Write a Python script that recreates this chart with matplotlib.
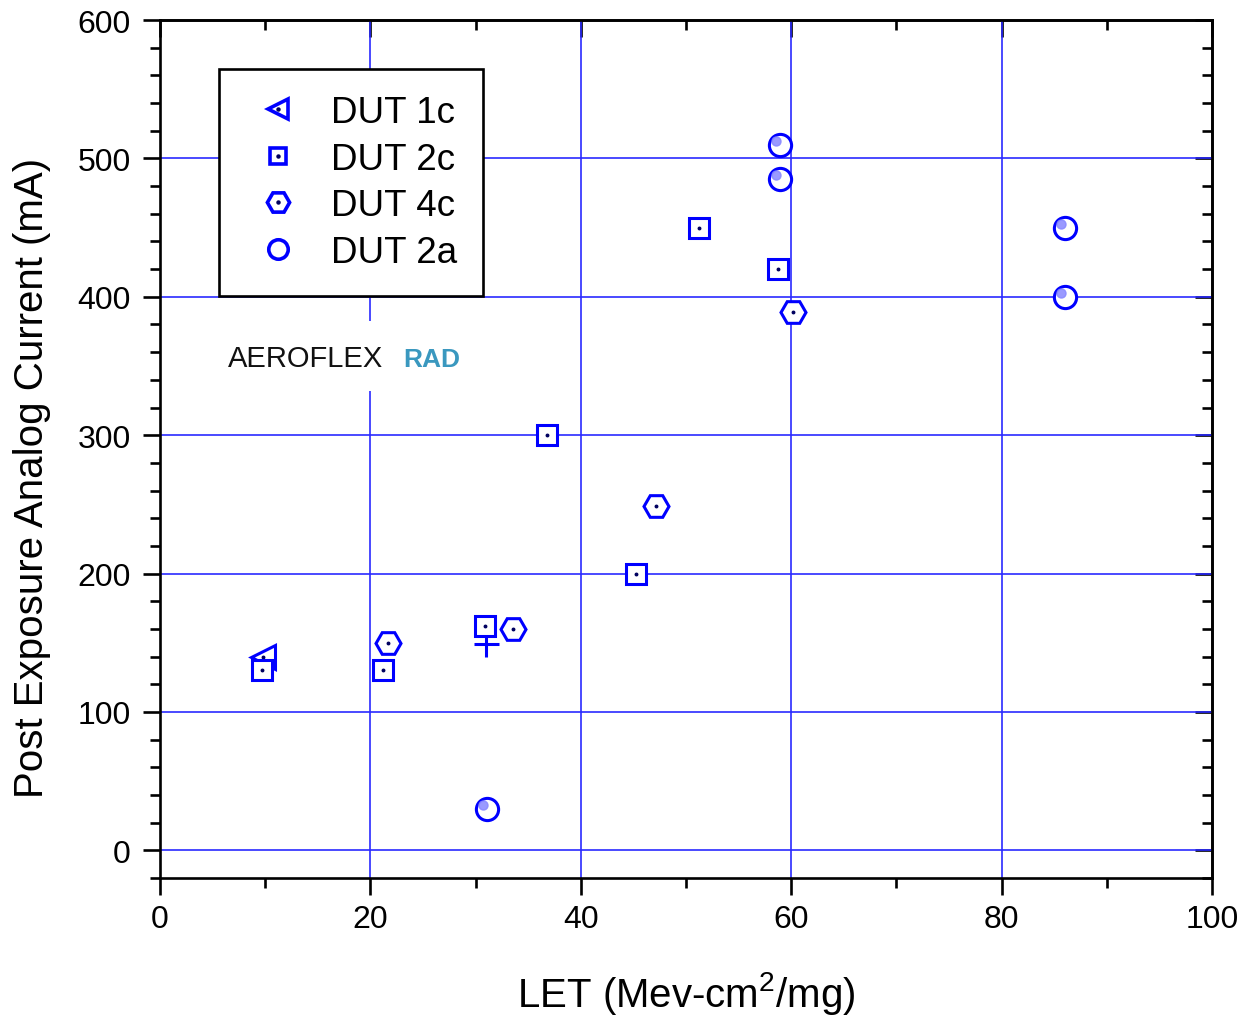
import matplotlib
matplotlib.use("Agg")
import matplotlib.pyplot as plt
from matplotlib.ticker import MultipleLocator
from matplotlib.patches import Rectangle
from matplotlib import transforms

plt.rcParams['font.family'] = ['Liberation Sans', 'DejaVu Sans']
plt.rcParams['mathtext.fontset'] = 'custom'
plt.rcParams['mathtext.rm'] = 'Liberation Sans'
plt.rcParams['mathtext.it'] = 'Liberation Sans'

# ---- data ----
dut1c_x = [9.8]
dut1c_y = [140]
dut2c_x = [9.7, 21.2, 30.9, 36.8, 45.2, 51.2, 58.7]
dut2c_y = [130, 130, 162, 300, 200, 450, 420]
dut4c_x = [21.7, 33.6, 47.1, 60.2]
dut4c_y = [150, 160, 249, 389]
dut2a_x = [31.1, 58.9, 58.9, 86.0, 86.0]
dut2a_y = [30, 510, 485, 450, 400]
extra_x = [31.0]
extra_y = [149]

x_ticks = [0, 20, 40, 60, 80, 100]
y_ticks = [0, 100, 200, 300, 400, 500, 600]
labels = ['DUT 1c', 'DUT 2c', 'DUT 4c', 'DUT 2a']

BLUE = '#0000ff'
DOT = '#000060'

fig = plt.figure(figsize=(12.52, 10.2), dpi=100)
ax = fig.add_axes([0.1278, 0.1382, 0.8403, 0.8412])
ax.set_xlim(0, 100)
ax.set_ylim(-20, 600)

# grid
for xv in x_ticks[1:-1]:
    ax.axvline(xv, color='#2a2aff', lw=1.2, zorder=1)
for yv in y_ticks[:-1]:
    ax.axhline(yv, color='#2a2aff', lw=1.2, zorder=1)

mew = 2.2
ax.plot(extra_x, extra_y, ls='none', marker='+', ms=18, mew=mew, color=BLUE, zorder=3)
h1, = ax.plot(dut1c_x, dut1c_y, ls='none', marker='<', ms=17, mew=mew,
              mec=BLUE, mfc='white', zorder=3)
ax.plot(dut1c_x, dut1c_y, ls='none', marker='o', ms=1.8, color=DOT, zorder=3)
h2, = ax.plot(dut2c_x, dut2c_y, ls='none', marker='s', ms=15, mew=mew,
              mec=BLUE, mfc='white', zorder=4)
ax.plot(dut2c_x, dut2c_y, ls='none', marker='o', ms=1.8, color=DOT, zorder=4)
h3, = ax.plot(dut4c_x, dut4c_y, ls='none', marker='H', ms=18, mew=mew,
              mec=BLUE, mfc='white', zorder=4)
ax.plot(dut4c_x, dut4c_y, ls='none', marker='o', ms=1.8, color=DOT, zorder=4)
h4, = ax.plot(dut2a_x, dut2a_y, ls='none', marker='o', ms=16, mew=mew,
              mec=BLUE, mfc='white', zorder=4)
hl_tr = transforms.offset_copy(ax.transData, fig=fig, x=-4, y=4, units='dots')
ax.plot(dut2a_x, dut2a_y, ls='none', marker='o', ms=6.5, color='#8888ff',
        alpha=0.85, transform=hl_tr, zorder=5)

# legend handles (slightly smaller, thicker markers)
lg1 = plt.Line2D([], [], ls='none', marker='<', ms=15, mew=2.6, mec=BLUE, mfc='white')
lg2 = plt.Line2D([], [], ls='none', marker='s', ms=12, mew=2.6, mec=BLUE, mfc='white')
lg3 = plt.Line2D([], [], ls='none', marker='H', ms=16, mew=2.6, mec=BLUE, mfc='white')
lg4 = plt.Line2D([], [], ls='none', marker='o', ms=14, mew=2.6, mec=BLUE, mfc='white')
d1 = plt.Line2D([], [], ls='none', marker='o', ms=2.2, color=DOT)
leg = ax.legend([(lg1, d1), (lg2, d1), (lg3, d1), (lg4,)], labels,
                loc='upper left', bbox_to_anchor=(0.0561, 0.9429),
                borderaxespad=0, fontsize=26.5, frameon=True, fancybox=False,
                framealpha=1, edgecolor='black', borderpad=0.7,
                handlelength=1.8, handletextpad=0.55, labelspacing=0.32)
leg.get_frame().set_linewidth(1.9)
leg.set_zorder(10)

# logo
ax.add_patch(Rectangle((0.0618, 0.5676), 0.233, 0.0816, transform=ax.transAxes,
                       facecolor='white', edgecolor='none', zorder=6))
ax.text(0.138, 0.606, 'AEROFLEX', transform=ax.transAxes, ha='center', va='center',
        fontsize=21, color='#111111', zorder=7)
ax.text(0.2586, 0.605, 'RAD', transform=ax.transAxes, ha='center', va='center',
        fontsize=19, fontweight='bold', color='#3a98bf', zorder=7)

# axes styling
for sp in ax.spines.values():
    sp.set_linewidth(1.9)
    sp.set_zorder(8)
ax.set_xticks(x_ticks)
ax.set_yticks(y_ticks)
ax.xaxis.set_minor_locator(MultipleLocator(10))
ax.yaxis.set_minor_locator(MultipleLocator(20))
ax.tick_params(which='major', direction='out', length=12, width=1.9,
               labelsize=23, top=False, right=False)
ax.tick_params(which='minor', direction='out', length=7, width=1.9,
               top=False, right=False)
ax.tick_params(axis='x', which='major', pad=7)
ax.tick_params(axis='y', which='major', pad=9)

top = ax.secondary_xaxis('top')
top.set_xticks(x_ticks)
top.xaxis.set_minor_locator(MultipleLocator(10))
top.tick_params(which='major', direction='in', length=12, width=1.9, labeltop=False)
top.tick_params(which='minor', direction='in', length=7, width=1.9)
top.spines['top'].set_linewidth(1.9)

right = ax.secondary_yaxis('right')
right.set_yticks(y_ticks)
right.yaxis.set_minor_locator(MultipleLocator(20))
right.tick_params(which='major', direction='in', length=12, width=1.9, labelright=False)
right.tick_params(which='minor', direction='in', length=7, width=1.9)
right.spines['right'].set_linewidth(1.9)

ax.set_xlabel('LET (Mev-cm$^2$/mg)', fontsize=29)
ax.set_ylabel('Post Exposure Analog Current (mA)', fontsize=29)
ax.xaxis.set_label_coords(0.5, -0.106)
ax.yaxis.set_label_coords(-0.104, 0.467)

fig.savefig('out.png', dpi=100, facecolor='white')
